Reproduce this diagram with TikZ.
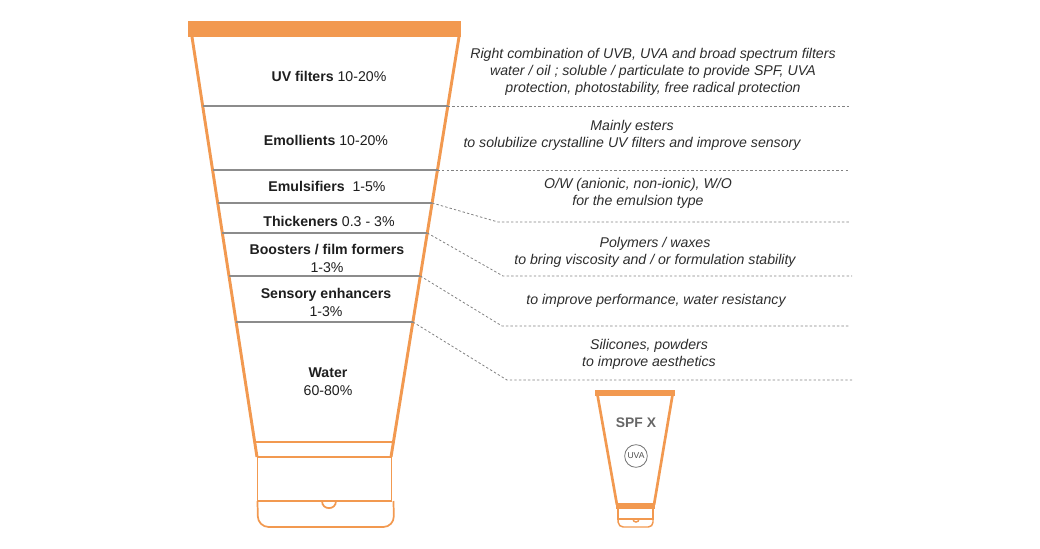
\documentclass[tikz,border=0pt]{standalone}
\usepackage{fontspec}
\setmainfont{Liberation Sans}
\definecolor{tubeor}{RGB}{242,153,80}
\definecolor{sepgray}{RGB}{140,140,140}
\definecolor{dashgray}{RGB}{130,130,130}
\definecolor{txt}{RGB}{30,30,30}
\definecolor{dtxt}{RGB}{45,45,45}
\tikzset{
  tubeline/.style={draw=tubeor, line width=2.2pt},
  capline/.style={draw=tubeor, line width=1.3pt},
  sepline/.style={draw=sepgray, line width=1.2pt},
  dashline/.style={draw=dashgray, line width=0.6pt, dash pattern=on 1.8pt off 1.6pt},
  lab/.style={font=\fontsize{10.6}{13.5}\selectfont, text=txt, align=center, inner sep=0pt},
  desc/.style={font=\fontsize{10.6}{12.75}\selectfont\itshape, text=dtxt, align=center, inner sep=0pt},
}
\begin{document}
\begin{tikzpicture}[x=0.75pt,y=-0.75pt]
\useasboundingbox (0,0) rectangle (1040,549);
% ---------- main tube ----------
\fill[tubeor] (188,21) rectangle (461,37);
\draw[tubeline] (192,37) -- (257,457);
\draw[tubeline] (459,37) -- (391,457);
\draw[tubeline] (254.7,442) -- (393.4,442);
\draw[tubeline] (257,457) -- (391,457);
\draw[capline] (257.5,457) -- (257.5,501) -- (391.5,501) -- (391.5,457);
\draw[capline, rounded corners=8pt] (257.5,501) -- (258,527) -- (394,527) -- (393.5,501);
\draw[capline] (322,501) .. controls (322,510.5) and (336,510.5) .. (336,501);
% separators
\coordinate (s1l) at (202.7,106); \coordinate (s1r) at (447.8,106);
\coordinate (s2l) at (212.6,170); \coordinate (s2r) at (437.5,170);
\coordinate (s3l) at (217.7,203); \coordinate (s3r) at (432.1,203);
\coordinate (s4l) at (222.3,233); \coordinate (s4r) at (427.3,233);
\coordinate (s5l) at (229.0,276); \coordinate (s5r) at (420.3,276);
\coordinate (s6l) at (236.1,322); \coordinate (s6r) at (412.9,322);
\foreach \i in {1,...,6}{\draw[sepline] (s\i l) -- (s\i r);}
% labels
\node[lab] (uv) at (329,76) {\textbf{UV filters} 10-20\%};
\node[lab] (emo) at (326,140) {\textbf{Emollients} 10-20\%};
\node[lab] (emu) at (327,186) {\textbf{Emulsifiers}\ \ 1-5\%};
\node[lab] (thi) at (329,221) {\textbf{Thickeners} 0.3 - 3\%};
\node[lab] (boo) at (327,258) {\textbf{Boosters / film formers}\\1-3\%};
\node[lab] (sen) at (326,302) {\textbf{Sensory enhancers}\\1-3\%};
\node[lab] (wat) at (328,382) {\textbf{Water}\\60-80\%};
% ---------- descriptions ----------
\node[desc] (d1) at (653,72) {Right combination of UVB, UVA and broad spectrum filters\\water / oil ; soluble / particulate to provide SPF, UVA\\protection, photostability, free radical protection};
\node[desc] (d2) at (632,135) {Mainly esters\\to solubilize crystalline UV filters and improve sensory};
\node[desc] (d3) at (638,193.5) {O/W (anionic, non-ionic), W/O\\for the emulsion type};
\node[desc] (d4) at (655,252.5) {Polymers / waxes\\to bring viscosity and / or formulation stability};
\node[desc] (d5) at (656,301) {to improve performance, water resistancy};
\node[desc] (d6) at (649,354.5) {Silicones, powders\\to improve aesthetics};
% dashed leaders
\coordinate (e1) at (850,106);
\coordinate (e2) at (850,170);
\coordinate (k3) at (498,222); \coordinate (e3) at (850,222);
\coordinate (k4) at (503,276); \coordinate (e4) at (852,276);
\coordinate (k5) at (502,326); \coordinate (e5) at (850,326);
\coordinate (k6) at (507,380); \coordinate (e6) at (852,380);
\draw[dashline] (s1r) -- (e1);
\draw[dashline] (s2r) -- (e2);
\draw[dashline] (s3r) -- (k3) -- (e3);
\draw[dashline] (s4r) -- (k4) -- (e4);
\draw[dashline] (s5r) -- (k5) -- (e5);
\draw[dashline] (s6r) -- (k6) -- (e6);
% ---------- small tube ----------
\fill[tubeor] (595,390) rectangle (675,395.5);
\draw[tubeor, line width=2pt] (597.5,395) -- (617,505);
\draw[tubeor, line width=2pt] (672.5,395) -- (654,505);
\fill[tubeor] (616,503) rectangle (655,509);
\draw[tubeor, line width=1.1pt] (618,509) -- (618,519) -- (653,519) -- (653,509);
\draw[tubeor, line width=1.1pt, rounded corners=3.5pt] (618,519) -- (618.5,527) -- (653,527) -- (653,519);
\draw[tubeor, line width=1.1pt] (633,519) .. controls (633,523) and (639,523) .. (639,519);
\node[font=\fontsize{10.4}{12}\selectfont\bfseries, text=black!60, inner sep=0pt] (spf) at (636,423) {SPF X};
\node[draw=black!55, line width=0.6pt, circle, minimum size=17pt, inner sep=0pt, font=\fontsize{6.4}{7}\selectfont, text=black!70] (uva) at (636,456) {UVA};
\end{tikzpicture}
\end{document}
